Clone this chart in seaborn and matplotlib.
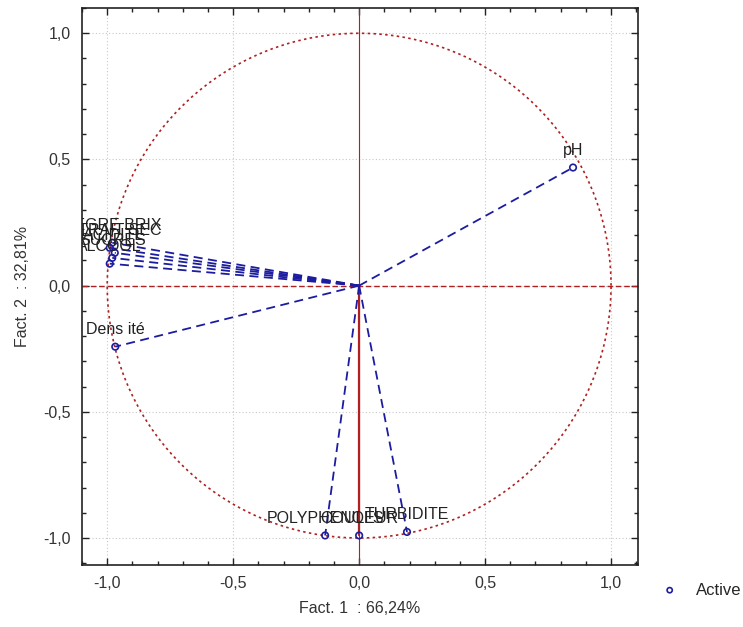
import numpy as np
import pandas as pd
import matplotlib
matplotlib.use("Agg")
import matplotlib.pyplot as plt
from matplotlib.ticker import MultipleLocator, FuncFormatter
import seaborn as sns

# Data: factor coordinates of variables
variables = ["DEGRE BRIX", "EXTRAIT SEC", "ACIDITE", "SUCRES", "ALCOOL",
             "Dens ité", "pH", "POLYPHENOLS", "COULEUR", "TURBIDITE"]
fact1 = [-0.98, -0.99, -0.97, -0.98, -0.99, -0.968, 0.849, -0.135, 0.0, 0.19]
fact2 = [0.17, 0.15, 0.13, 0.11, 0.087, -0.242, 0.468, -0.99, -0.99, -0.976]
xlabel = "Fact. 1  : 66,24%"
ylabel = "Fact. 2  : 32,81%"
legend_label = "Active"

sns.set_theme(style="ticks")
plt.rcParams['font.family'] = ['Liberation Sans', 'DejaVu Sans']
plt.rcParams['axes.grid'] = False

fig = plt.figure(figsize=(7.43, 6.27), dpi=100)
ax = fig.add_axes([0.1104, 0.0989, 0.7483, 0.8883])

blue = "#1c1ca0"
red = "#b02020"

# unit circle
theta = np.linspace(0, 2 * np.pi, 400)
ax.plot(np.cos(theta), np.sin(theta), color=red, lw=1.2, ls=(0, (1.5, 2)), zorder=1)
# axes lines
ax.axhline(0, color=red, lw=1.0, ls=(0, (4, 2)), zorder=1)
ax.axvline(0, color=red, lw=0.8, zorder=1)

df = pd.DataFrame({"var": variables, "f1": fact1, "f2": fact2})
seg = pd.concat([
    pd.DataFrame({"var": variables, "f1": 0.0, "f2": 0.0, "o": 0}),
    df.assign(o=1)
]).sort_values(["var", "o"])

# vector for COULEUR drawn solid red (on the axis)
sol = seg[seg["var"] == "COULEUR"]
sns.lineplot(data=sol, x="f1", y="f2", units="var", estimator=None, sort=False,
             color=red, lw=1.6, ax=ax, zorder=2)
rest = seg[seg["var"] != "COULEUR"]
sns.lineplot(data=rest, x="f1", y="f2", units="var", estimator=None, sort=False,
             color=blue, lw=1.3, ax=ax, zorder=2, dashes=False, linestyle=(0, (5, 3)))

sns.scatterplot(data=df, x="f1", y="f2", marker="o", s=22, facecolor="none",
                edgecolor=blue, linewidth=1.2, ax=ax, zorder=3, label=legend_label)

for name, x, y in zip(variables, fact1, fact2):
    ax.annotate(name, (x, y), xytext=(0, 7), textcoords="offset points",
                ha="center", va="bottom", fontsize=11.5, color="#222222",
                annotation_clip=False, clip_on=True)

ax.set_xlim(-1.1, 1.107)
ax.set_ylim(-1.107, 1.1)
ax.xaxis.set_major_locator(MultipleLocator(0.5))
ax.yaxis.set_major_locator(MultipleLocator(0.5))
ax.xaxis.set_minor_locator(MultipleLocator(0.1))
ax.yaxis.set_minor_locator(MultipleLocator(0.1))
fmt = FuncFormatter(lambda v, p: f"{v:.1f}".replace(".", ",").replace("-0,0", "0,0"))
ax.xaxis.set_major_formatter(fmt)
ax.yaxis.set_major_formatter(fmt)
ax.tick_params(which="both", direction="in", top=True, right=True, bottom=True, left=True,
               colors="#222222", labelcolor="#333333", labelsize=11.5)
ax.tick_params(which="major", length=5, width=1)
ax.tick_params(which="minor", length=3, width=1)
ax.tick_params(axis="x", pad=8)
ax.tick_params(axis="y", pad=8)
for s in ax.spines.values():
    s.set_visible(True)
    s.set_color("#222222")
    s.set_linewidth(1.2)
ax.set_xlabel(xlabel, fontsize=11.5, color="#333333", labelpad=7)
ax.set_ylabel(ylabel, fontsize=11.5, color="#333333", labelpad=10)

ax.legend(loc="center left", bbox_to_anchor=(1.0, -0.045), frameon=False,
          fontsize=12, handletextpad=0.6, markerscale=0.8)
ax.grid(False, which="minor")
ax.grid(True, which="major", color="#c8c8c8", lw=0.8, ls=(0, (1, 2)), zorder=0)
ax.set_axisbelow(True)

fig.savefig("out.png", dpi=100)
